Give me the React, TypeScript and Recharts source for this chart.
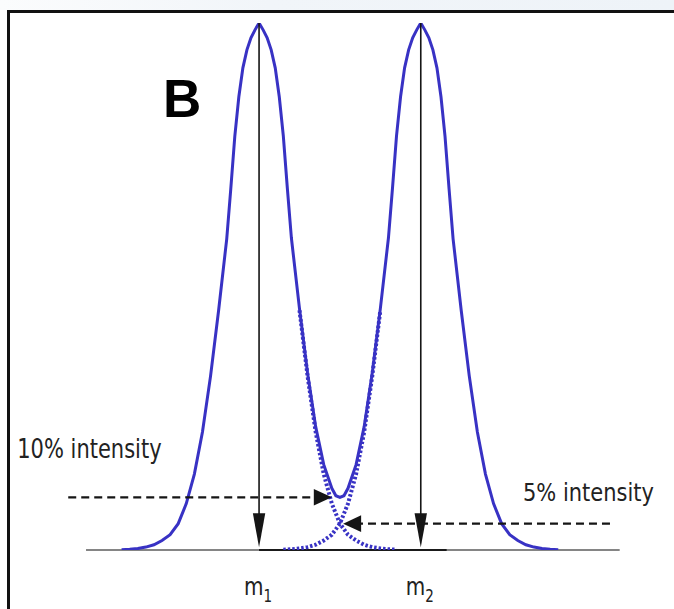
import React from 'react';
import { LineChart, Line, XAxis, YAxis, ReferenceLine, ReferenceDot } from 'recharts';

// Summed isotope envelope: m/z positions and relative intensity (%)
const envelopeMz = [
  1.5, 2, 2.5, 3, 3.5, 4, 4.5, 5, 5.5, 6, 6.5, 7, 7.5,
  8, 8.25, 8.5, 8.75, 9, 9.25, 9.5, 9.75, 10, 10.25, 10.5, 10.75, 11, 11.25, 11.5, 11.75, 12,
  12.5, 13, 13.5, 14, 14.5, 14.75, 15, 15.25, 15.5, 16, 16.5, 17, 17.5,
  18, 18.25, 18.5, 18.75, 19, 19.25, 19.5, 19.75, 20, 20.25, 20.5, 20.75, 21, 21.25, 21.5, 21.75, 22,
  22.5, 23, 23.5, 24, 24.5, 25, 25.5, 26, 26.5, 27, 27.5, 28, 28.5,
];
const envelopeIntensity = [
  0.05, 0.15, 0.3, 0.55, 1.0, 1.8, 2.9, 5.0, 8.8, 14.4, 22.4, 33, 45.5,
  59, 68.5, 78.5, 86, 91.5, 94.9, 97.2, 98.7, 100, 98.7, 97.2, 94.9, 91.5, 86, 78.6, 68.6, 59.2,
  45.8, 33.6, 23.4, 16.2, 11.7, 10.3, 10, 10.3, 11.7, 16.2, 23.4, 33.6, 45.8,
  59.2, 68.6, 78.6, 86, 91.5, 94.9, 97.2, 98.7, 100, 98.7, 97.2, 94.9, 91.5, 86, 78.5, 68.5, 59,
  45.5, 33, 22.4, 14.4, 8.8, 5.0, 2.9, 1.8, 1.0, 0.55, 0.3, 0.15, 0.05,
];

// Individual peak tails inside the overlap region
const peak1TailMz = [12.5, 13, 13.5, 14, 14.5, 15, 15.5, 16, 16.5, 17, 17.5, 18, 18.5];
const peak1TailIntensity = [45.5, 33, 22.4, 14.4, 8.8, 5.0, 2.9, 1.8, 1.0, 0.55, 0.3, 0.15, 0.05];
const peak2TailMz = [11.5, 12, 12.5, 13, 13.5, 14, 14.5, 15, 15.5, 16, 16.5, 17, 17.5];
const peak2TailIntensity = [0.05, 0.15, 0.3, 0.55, 1.0, 1.8, 2.9, 5.0, 8.8, 14.4, 22.4, 33, 45.5];

// Peak centroids
const peakMz = [10, 20];
const peakNames = ['1', '2'];
const peakTop = 100;

// Intensity level markers
const levelLabels = ['10% intensity', '5% intensity'];
const levelValues = [10, 5];
const levelFromMz = [-1.8, 31.7];
const levelToMz = [14.5, 15.2];

// Baseline extent
const baselineMz = [-0.7, 32.3];
const baselineDarkMz = [10, 21.6];

const BLUE = '#3832c4';
const INK = '#151515';

const envelopeData = envelopeMz.map((mz, i) => ({ mz, v: envelopeIntensity[i] }));
const tail1Data = peak1TailMz.map((mz, i) => ({ mz, v: peak1TailIntensity[i] }));
const tail2Data = peak2TailMz.map((mz, i) => ({ mz, v: peak2TailIntensity[i] }));

function arrowShape(headLen: number, headHalf: number, width: number, dash?: string) {
  return (p: any) => {
    const x1 = Number(p.x1), y1 = Number(p.y1), x2 = Number(p.x2), y2 = Number(p.y2);
    const dx = x2 - x1;
    const dy = y2 - y1;
    const len = Math.hypot(dx, dy) || 1;
    const ux = dx / len;
    const uy = dy / len;
    const bx = x2 - ux * headLen;
    const by = y2 - uy * headLen;
    const px = -uy * headHalf;
    const py = ux * headHalf;
    return (
      <g>
        <line x1={x1} y1={y1} x2={bx + ux * 2} y2={by + uy * 2} stroke={INK} strokeWidth={width} strokeDasharray={dash} />
        <polygon points={`${x2},${y2} ${bx + px},${by + py} ${bx - px},${by - py}`} fill={INK} />
      </g>
    );
  };
}

function levelText(text: string, dx: number, dy: number, stretch: number) {
  return (p: any) => (
    <text
      transform={`translate(${p.cx + dx},${p.cy + dy}) scale(1,${stretch})`}
      fontFamily="'DejaVu Sans', Verdana, sans-serif"
      fontSize={21}
      fill="#222"
    >
      {text}
    </text>
  );
}

function massText(sub: string) {
  return (p: any) => (
    <text
      transform={`translate(${p.cx - 15},${p.cy + 45}) scale(1,1.25)`}
      fontFamily="'DejaVu Sans', Verdana, sans-serif"
      fill="#222"
    >
      <tspan fontSize={20}>m</tspan>
      <tspan fontSize={13.5} dy={5.2}>{sub}</tspan>
    </text>
  );
}

export default function App() {
  return (
    <div style={{ position: 'fixed', left: 0, top: 0, width: 674, height: 609, background: '#fff', overflow: 'hidden' }}>
      <div
        style={{
          position: 'absolute', left: 0, top: 0, width: 674, height: 10,
          background: 'linear-gradient(90deg, #fbfcfd 0%, #f1f5f9 40%, #eef3f8 100%)',
        }}
      />
      <div
        style={{
          position: 'absolute', left: 7, top: 10, width: 700, height: 620,
          borderLeft: '3px solid #111', borderTop: '3px solid #111', boxSizing: 'border-box',
        }}
      />
      <div style={{ position: 'absolute', left: 0, top: 0 }}>
        <LineChart width={674} height={609} margin={{ top: 23, right: 43, bottom: 59, left: 65 }}>
          <XAxis dataKey="mz" type="number" domain={[-2, 33]} allowDataOverflow hide />
          <YAxis type="number" domain={[0, 100]} allowDataOverflow hide />

          <ReferenceLine
            segment={[{ x: baselineMz[0], y: 0 }, { x: baselineMz[1], y: 0 }]}
            stroke="#858585"
            strokeWidth={2}
          />
          <ReferenceLine
            segment={[{ x: baselineDarkMz[0], y: 0 }, { x: baselineDarkMz[1], y: 0 }]}
            stroke="#1a1a1a"
            strokeWidth={2}
          />

          <Line data={tail1Data} dataKey="v" type="linear" stroke={BLUE} strokeWidth={4} strokeDasharray="2.5 2" dot={false} isAnimationActive={false} />
          <Line data={tail2Data} dataKey="v" type="linear" stroke={BLUE} strokeWidth={4} strokeDasharray="2.5 2" dot={false} isAnimationActive={false} />
          <Line data={envelopeData} dataKey="v" type="linear" stroke={BLUE} strokeWidth={3} dot={false} isAnimationActive={false} />

          {peakMz.map((mz) => (
            <ReferenceLine
              key={`peak-${mz}`}
              segment={[{ x: mz, y: peakTop }, { x: mz, y: 0.5 }]}
              shape={arrowShape(34, 6.2, 1.6)}
            />
          ))}

          {levelValues.map((lv, i) => (
            <ReferenceLine
              key={`level-${lv}`}
              segment={[{ x: levelFromMz[i], y: lv }, { x: levelToMz[i], y: lv }]}
              shape={arrowShape(18, 8.3, 2.2, '8 5')}
            />
          ))}

          <ReferenceDot x={levelFromMz[0]} y={levelValues[0]} r={0} shape={levelText(levelLabels[0], -51, -39, 1.25)} />
          <ReferenceDot x={levelFromMz[1]} y={levelValues[1]} r={0} shape={levelText(levelLabels[1], -87, -23, 1.15)} />

          {peakMz.map((mz, i) => (
            <ReferenceDot key={`name-${mz}`} x={mz} y={0} r={0} shape={massText(peakNames[i])} />
          ))}
        </LineChart>
      </div>
      <svg style={{ position: 'absolute', left: 0, top: 0, pointerEvents: 'none' }} width={674} height={609}>
        <text x={163} y={117} fontFamily="'Liberation Sans', Arial, sans-serif" fontWeight="bold" fontSize={53} fill="#000">
          B
        </text>
      </svg>
    </div>
  );
}
